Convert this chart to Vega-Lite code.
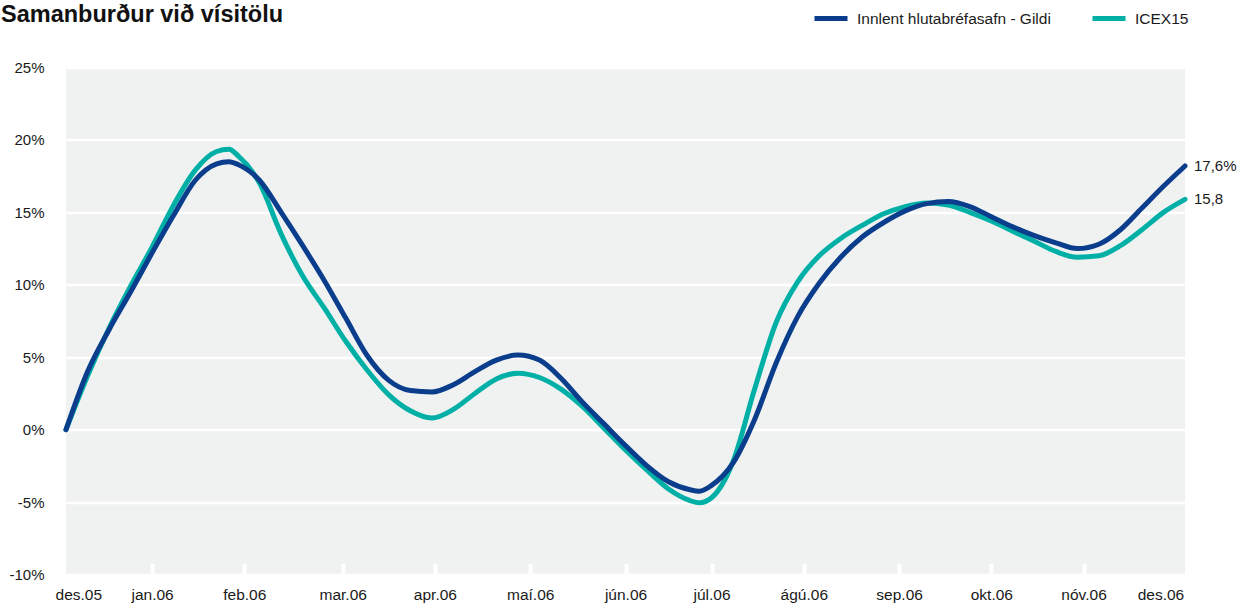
{
  "$schema": "https://vega.github.io/schema/vega-lite/v6.json",
  "width": 1119,
  "height": 507,
  "autosize": {"type": "none"},
  "padding": {"left": 66, "top": 67.5, "right": 52, "bottom": 29.5},
  "background": "white",
  "config": {
    "view": {"fill": "#f0f2f1", "stroke": null},
    "font": "Liberation Sans",
    "text": {"font": "Liberation Sans"}
  },
  "title": {
    "text": "Samanburður við vísitölu",
    "anchor": "start",
    "frame": "group",
    "dx": -65,
    "offset": -27,
    "fontSize": 23.5,
    "fontWeight": "bold",
    "color": "#111111",
    "font": "Liberation Sans"
  },
  "data": {
    "values": [
      {"date": "2005/12/30", "series": "ICEX15", "value": 0},
      {"date": "2006/01/06", "series": "ICEX15", "value": 3.7},
      {"date": "2006/01/13", "series": "ICEX15", "value": 7.0},
      {"date": "2006/01/20", "series": "ICEX15", "value": 9.9},
      {"date": "2006/01/27", "series": "ICEX15", "value": 12.6},
      {"date": "2006/02/03", "series": "ICEX15", "value": 15.5},
      {"date": "2006/02/10", "series": "ICEX15", "value": 17.9},
      {"date": "2006/02/17", "series": "ICEX15", "value": 19.2},
      {"date": "2006/02/21", "series": "ICEX15", "value": 19.35},
      {"date": "2006/02/24", "series": "ICEX15", "value": 18.9},
      {"date": "2006/03/03", "series": "ICEX15", "value": 17.0},
      {"date": "2006/03/10", "series": "ICEX15", "value": 13.5},
      {"date": "2006/03/17", "series": "ICEX15", "value": 10.6},
      {"date": "2006/03/24", "series": "ICEX15", "value": 8.4},
      {"date": "2006/03/31", "series": "ICEX15", "value": 6.1},
      {"date": "2006/04/07", "series": "ICEX15", "value": 4.1},
      {"date": "2006/04/14", "series": "ICEX15", "value": 2.4},
      {"date": "2006/04/21", "series": "ICEX15", "value": 1.3},
      {"date": "2006/04/28", "series": "ICEX15", "value": 0.8},
      {"date": "2006/05/05", "series": "ICEX15", "value": 1.4},
      {"date": "2006/05/12", "series": "ICEX15", "value": 2.5},
      {"date": "2006/05/19", "series": "ICEX15", "value": 3.5},
      {"date": "2006/05/26", "series": "ICEX15", "value": 3.9},
      {"date": "2006/06/02", "series": "ICEX15", "value": 3.6},
      {"date": "2006/06/09", "series": "ICEX15", "value": 2.8},
      {"date": "2006/06/16", "series": "ICEX15", "value": 1.6},
      {"date": "2006/06/23", "series": "ICEX15", "value": 0.1},
      {"date": "2006/06/30", "series": "ICEX15", "value": -1.4},
      {"date": "2006/07/07", "series": "ICEX15", "value": -2.8},
      {"date": "2006/07/14", "series": "ICEX15", "value": -4.1},
      {"date": "2006/07/21", "series": "ICEX15", "value": -4.9},
      {"date": "2006/07/24", "series": "ICEX15", "value": -5.05},
      {"date": "2006/07/28", "series": "ICEX15", "value": -4.7},
      {"date": "2006/08/04", "series": "ICEX15", "value": -2.2},
      {"date": "2006/08/11", "series": "ICEX15", "value": 2.8},
      {"date": "2006/08/18", "series": "ICEX15", "value": 7.4},
      {"date": "2006/08/25", "series": "ICEX15", "value": 10.2},
      {"date": "2006/09/01", "series": "ICEX15", "value": 12.0},
      {"date": "2006/09/08", "series": "ICEX15", "value": 13.2},
      {"date": "2006/09/15", "series": "ICEX15", "value": 14.1},
      {"date": "2006/09/22", "series": "ICEX15", "value": 14.9},
      {"date": "2006/09/29", "series": "ICEX15", "value": 15.4},
      {"date": "2006/10/06", "series": "ICEX15", "value": 15.65},
      {"date": "2006/10/13", "series": "ICEX15", "value": 15.5},
      {"date": "2006/10/20", "series": "ICEX15", "value": 15.0},
      {"date": "2006/10/27", "series": "ICEX15", "value": 14.4},
      {"date": "2006/11/03", "series": "ICEX15", "value": 13.7},
      {"date": "2006/11/10", "series": "ICEX15", "value": 13.0},
      {"date": "2006/11/17", "series": "ICEX15", "value": 12.3},
      {"date": "2006/11/24", "series": "ICEX15", "value": 11.9},
      {"date": "2006/12/01", "series": "ICEX15", "value": 12.0},
      {"date": "2006/12/08", "series": "ICEX15", "value": 12.7},
      {"date": "2006/12/15", "series": "ICEX15", "value": 13.8},
      {"date": "2006/12/22", "series": "ICEX15", "value": 15.0},
      {"date": "2006/12/29", "series": "ICEX15", "value": 15.9, "label": "15,8"},
      {"date": "2005/12/30", "series": "Innlent hlutabréfasafn - Gildi", "value": 0},
      {"date": "2006/01/06", "series": "Innlent hlutabréfasafn - Gildi", "value": 4.0},
      {"date": "2006/01/13", "series": "Innlent hlutabréfasafn - Gildi", "value": 6.9},
      {"date": "2006/01/20", "series": "Innlent hlutabréfasafn - Gildi", "value": 9.5},
      {"date": "2006/01/27", "series": "Innlent hlutabréfasafn - Gildi", "value": 12.2},
      {"date": "2006/02/03", "series": "Innlent hlutabréfasafn - Gildi", "value": 14.8},
      {"date": "2006/02/10", "series": "Innlent hlutabréfasafn - Gildi", "value": 17.2},
      {"date": "2006/02/17", "series": "Innlent hlutabréfasafn - Gildi", "value": 18.35},
      {"date": "2006/02/21", "series": "Innlent hlutabréfasafn - Gildi", "value": 18.5},
      {"date": "2006/02/24", "series": "Innlent hlutabréfasafn - Gildi", "value": 18.3},
      {"date": "2006/03/03", "series": "Innlent hlutabréfasafn - Gildi", "value": 17.2},
      {"date": "2006/03/10", "series": "Innlent hlutabréfasafn - Gildi", "value": 15.0},
      {"date": "2006/03/17", "series": "Innlent hlutabréfasafn - Gildi", "value": 12.7},
      {"date": "2006/03/24", "series": "Innlent hlutabréfasafn - Gildi", "value": 10.3},
      {"date": "2006/03/31", "series": "Innlent hlutabréfasafn - Gildi", "value": 7.7},
      {"date": "2006/04/07", "series": "Innlent hlutabréfasafn - Gildi", "value": 5.1},
      {"date": "2006/04/14", "series": "Innlent hlutabréfasafn - Gildi", "value": 3.4},
      {"date": "2006/04/21", "series": "Innlent hlutabréfasafn - Gildi", "value": 2.7},
      {"date": "2006/04/28", "series": "Innlent hlutabréfasafn - Gildi", "value": 2.6},
      {"date": "2006/05/05", "series": "Innlent hlutabréfasafn - Gildi", "value": 3.1},
      {"date": "2006/05/12", "series": "Innlent hlutabréfasafn - Gildi", "value": 4.0},
      {"date": "2006/05/19", "series": "Innlent hlutabréfasafn - Gildi", "value": 4.8},
      {"date": "2006/05/26", "series": "Innlent hlutabréfasafn - Gildi", "value": 5.15},
      {"date": "2006/06/02", "series": "Innlent hlutabréfasafn - Gildi", "value": 4.8},
      {"date": "2006/06/09", "series": "Innlent hlutabréfasafn - Gildi", "value": 3.55},
      {"date": "2006/06/16", "series": "Innlent hlutabréfasafn - Gildi", "value": 1.9},
      {"date": "2006/06/23", "series": "Innlent hlutabréfasafn - Gildi", "value": 0.4},
      {"date": "2006/06/30", "series": "Innlent hlutabréfasafn - Gildi", "value": -1.1},
      {"date": "2006/07/07", "series": "Innlent hlutabréfasafn - Gildi", "value": -2.5},
      {"date": "2006/07/14", "series": "Innlent hlutabréfasafn - Gildi", "value": -3.6},
      {"date": "2006/07/21", "series": "Innlent hlutabréfasafn - Gildi", "value": -4.15},
      {"date": "2006/07/24", "series": "Innlent hlutabréfasafn - Gildi", "value": -4.25},
      {"date": "2006/07/28", "series": "Innlent hlutabréfasafn - Gildi", "value": -3.85},
      {"date": "2006/08/04", "series": "Innlent hlutabréfasafn - Gildi", "value": -2.3},
      {"date": "2006/08/11", "series": "Innlent hlutabréfasafn - Gildi", "value": 0.7},
      {"date": "2006/08/18", "series": "Innlent hlutabréfasafn - Gildi", "value": 4.6},
      {"date": "2006/08/25", "series": "Innlent hlutabréfasafn - Gildi", "value": 7.8},
      {"date": "2006/09/01", "series": "Innlent hlutabréfasafn - Gildi", "value": 10.1},
      {"date": "2006/09/08", "series": "Innlent hlutabréfasafn - Gildi", "value": 11.9},
      {"date": "2006/09/15", "series": "Innlent hlutabréfasafn - Gildi", "value": 13.3},
      {"date": "2006/09/22", "series": "Innlent hlutabréfasafn - Gildi", "value": 14.3},
      {"date": "2006/09/29", "series": "Innlent hlutabréfasafn - Gildi", "value": 15.1},
      {"date": "2006/10/06", "series": "Innlent hlutabréfasafn - Gildi", "value": 15.6},
      {"date": "2006/10/13", "series": "Innlent hlutabréfasafn - Gildi", "value": 15.75},
      {"date": "2006/10/20", "series": "Innlent hlutabréfasafn - Gildi", "value": 15.4},
      {"date": "2006/10/27", "series": "Innlent hlutabréfasafn - Gildi", "value": 14.7},
      {"date": "2006/11/03", "series": "Innlent hlutabréfasafn - Gildi", "value": 14.0},
      {"date": "2006/11/10", "series": "Innlent hlutabréfasafn - Gildi", "value": 13.4},
      {"date": "2006/11/17", "series": "Innlent hlutabréfasafn - Gildi", "value": 12.9},
      {"date": "2006/11/24", "series": "Innlent hlutabréfasafn - Gildi", "value": 12.5},
      {"date": "2006/12/01", "series": "Innlent hlutabréfasafn - Gildi", "value": 12.8},
      {"date": "2006/12/08", "series": "Innlent hlutabréfasafn - Gildi", "value": 13.8},
      {"date": "2006/12/15", "series": "Innlent hlutabréfasafn - Gildi", "value": 15.3},
      {"date": "2006/12/22", "series": "Innlent hlutabréfasafn - Gildi", "value": 16.8},
      {"date": "2006/12/29", "series": "Innlent hlutabréfasafn - Gildi", "value": 18.2, "label": "17,6%"}
    ]
  },
  "layer": [
    {
      "mark": {"type": "line", "interpolate": "monotone", "strokeWidth": 5, "strokeCap": "round", "strokeJoin": "round"},
      "encoding": {
        "x": {
          "field": "date",
          "type": "temporal",
          "scale": {"domain": [{"year": 2005, "month": 12, "date": 30}, {"year": 2006, "month": 12, "date": 29}]},
          "axis": {
            "title": null,
            "domain": false,
            "grid": false,
            "ticks": true,
            "tickColor": {"condition": {"test": "datum.value < datetime(2006, 0, 10) || datum.value > datetime(2006, 11, 15)", "value": "transparent"}, "value": "white"},
            "tickWidth": 4,
            "tickSize": 11,
            "offset": -11,
            "labelPadding": 13,
            "labelFontSize": 15.5,
            "labelColor": "#1a1a1a",
            "labelFont": "Liberation Sans",
            "labelOverlap": false,
            "labelFlush": false,
            "values": [
              {"year": 2006, "month": 1, "date": 3},
              {"year": 2006, "month": 1, "date": 27},
              {"year": 2006, "month": 2, "date": 26},
              {"year": 2006, "month": 3, "date": 30},
              {"year": 2006, "month": 4, "date": 29},
              {"year": 2006, "month": 5, "date": 30},
              {"year": 2006, "month": 6, "date": 30},
              {"year": 2006, "month": 7, "date": 28},
              {"year": 2006, "month": 8, "date": 27},
              {"year": 2006, "month": 9, "date": 27},
              {"year": 2006, "month": 10, "date": 27},
              {"year": 2006, "month": 11, "date": 26},
              {"year": 2006, "month": 12, "date": 21}
            ],
            "labelExpr": "['jan','feb','mar','apr','maí','jún','júl','ágú','sep','okt','nóv','des'][month(datum.value - 864000000)] + '.' + timeFormat(datum.value - 864000000, '%y')"
          }
        },
        "y": {
          "field": "value",
          "type": "quantitative",
          "scale": {"domain": [-10, 25], "nice": false},
          "axis": {
            "title": null,
            "domain": false,
            "ticks": false,
            "values": [-10, -5, 0, 5, 10, 15, 20, 25],
            "labelExpr": "datum.value + '%'",
            "grid": true,
            "gridColor": "white",
            "gridWidth": 2.5,
            "labelPadding": 22,
            "labelFontSize": 15,
            "labelColor": "#1a1a1a",
            "labelFont": "Liberation Sans"
          }
        },
        "color": {
          "field": "series",
          "type": "nominal",
          "scale": {"domain": ["Innlent hlutabréfasafn - Gildi", "ICEX15"], "range": ["#0a3d8c", "#00b0a6"]},
          "legend": {
            "title": null,
            "orient": "none",
            "legendX": 746,
            "legendY": -68,
            "direction": "horizontal",
            "symbolType": "stroke",
            "symbolStrokeWidth": 5,
            "symbolSize": 1089,
            "labelFontSize": 15.5,
            "labelLimit": 400,
            "labelColor": "#1a1a1a",
            "labelFont": "Liberation Sans",
            "labelOffset": 7,
            "columnPadding": 31
          }
        }
      }
    },
    {
      "transform": [{"filter": "datum.label"}],
      "mark": {"type": "text", "align": "left", "dx": 9, "fontSize": 15, "color": "#1a1a1a", "font": "Liberation Sans"},
      "encoding": {
        "x": {"field": "date", "type": "temporal"},
        "y": {"field": "value", "type": "quantitative"},
        "text": {"field": "label"}
      }
    }
  ]
}
